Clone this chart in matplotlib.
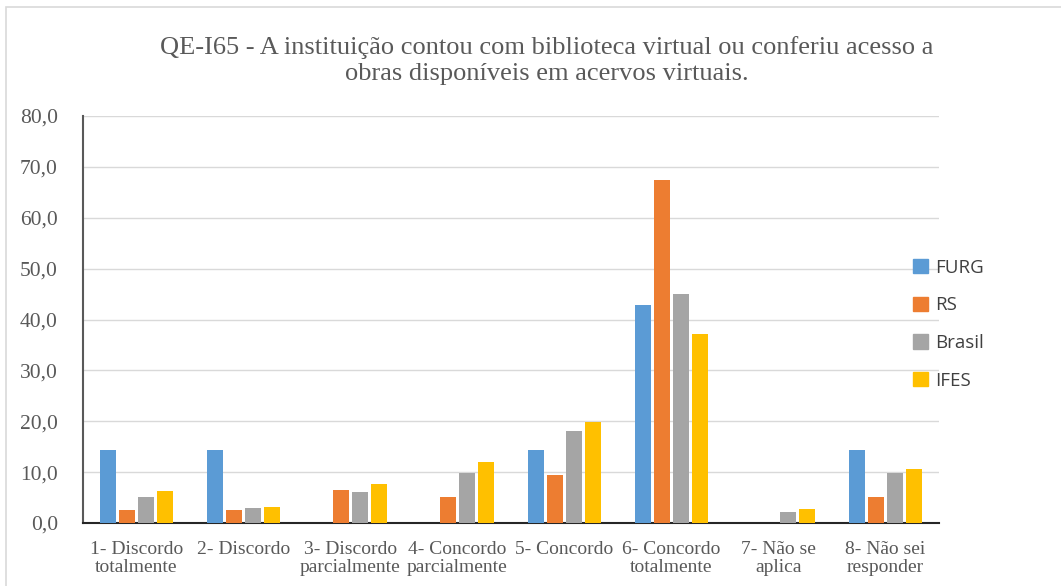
import matplotlib.pyplot as plt
import matplotlib.patches as mpatches
import numpy as np

categorias = ["1- Discordo\ntotalmente", "2- Discordo", "3- Discordo\nparcialmente",
              "4- Concordo\nparcialmente", "5- Concordo", "6- Concordo\ntotalmente",
              "7- Não se\naplica", "8- Não sei\nresponder"]
furg = [14.3, 14.3, 0.0, 0.0, 14.3, 42.8, 0.0, 14.3]
rs = [2.6, 2.6, 6.5, 5.2, 9.4, 67.4, 0.0, 5.2]
brasil = [5.2, 3.0, 6.1, 9.9, 18.0, 45.1, 2.1, 9.8]
ifes = [6.3, 3.1, 7.7, 12.0, 19.8, 37.1, 2.8, 10.6]
series = ["FURG", "RS", "Brasil", "IFES"]
cores = ["#5b9bd5", "#ed7d31", "#a5a5a5", "#ffc000"]

titulo = ("QE-I65 - A instituição contou com biblioteca virtual ou conferiu acesso a\n"
          "obras disponíveis em acervos virtuais.")

cinza = "#595959"
serif = "Liberation Serif"

fig = plt.figure(figsize=(10.61, 5.86), dpi=100)
ax = fig.add_axes([0.0782, 0.1075, 0.8068, 0.6945])

x = np.arange(len(categorias))
passo = 0.18
for i, (nome, vals) in enumerate(zip(series, [furg, rs, brasil, ifes])):
    ax.bar(x + (i - 1.5) * passo, vals, width=0.15, color=cores[i], label=nome,
           zorder=3)

ax.set_xlim(-0.5, len(categorias) - 0.5)
ax.set_ylim(0, 80)
ax.set_yticks(np.arange(0, 81, 10))
ax.set_yticklabels([f"{v:.1f}".replace(".", ",") for v in np.arange(0, 81, 10)],
                   fontfamily=serif, fontsize=15.5, color=cinza)
ax.set_xticks(x)
ax.set_xticklabels(categorias, fontfamily=serif, fontsize=14, color=cinza,
                   linespacing=1.05)
ax.tick_params(axis="both", length=0)
ax.tick_params(axis="y", pad=18)
ax.tick_params(axis="x", pad=13)
ax.grid(axis="y", color="#d9d9d9", linewidth=1, zorder=0)
for s in ["top", "right"]:
    ax.spines[s].set_visible(False)
ax.spines["left"].set_color(cinza)
ax.spines["left"].set_linewidth(1.5)
ax.spines["bottom"].set_color("#262626")
ax.spines["bottom"].set_linewidth(1.5)

fig.text(0.515, 0.897, titulo, ha="center", va="center", fontfamily=serif,
         fontsize=19, color=cinza, linespacing=1.2)

handles = [mpatches.Patch(color=c, label=n) for c, n in zip(cores, series)]
leg = fig.legend(handles=handles, loc="center left", bbox_to_anchor=(0.845, 0.447),
                 frameon=False, handlelength=0.8, handleheight=0.8,
                 handletextpad=0.35, labelspacing=1.05, labelcolor="#404040",
                 prop={"family": "Open Sans", "size": 13.5})

fig.patches.append(mpatches.Rectangle((0.0057, -0.05), 1.2, 1.038, transform=fig.transFigure,
                                      fill=False, edgecolor="#d9d9d9", linewidth=1.2))

fig.savefig("out.png", dpi=100)
